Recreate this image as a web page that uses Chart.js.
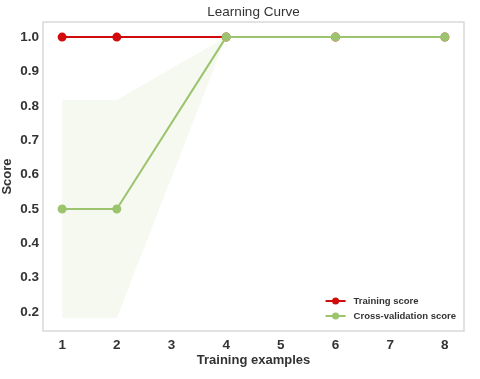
<!DOCTYPE html>
<html>
<head>
<meta charset="utf-8">
<script src="https://cdn.jsdelivr.net/npm/chart.js@4.4.1/dist/chart.umd.min.js"></script>
<style>
  html, body { margin: 0; padding: 0; background: #fff; }
  #wrap { width: 480px; height: 379px; }
</style>
</head>
<body>
<div id="wrap"><canvas id="lcChart" width="480" height="379"></canvas></div>
<script>
// data
const trainSizes = [1, 2, 4, 6, 8];
const trainScore = [1.0, 1.0, 1.0, 1.0, 1.0];
const cvScore = [0.5, 0.5, 1.0, 1.0, 1.0];
const cvUpper = [0.817, 0.817, 1.0, 1.0, 1.0];
const cvLower = [0.183, 0.183, 1.0, 1.0, 1.0];
const xTicks = [1, 2, 3, 4, 5, 6, 7, 8];
const yTicks = [0.2, 0.3, 0.4, 0.5, 0.6, 0.7, 0.8, 0.9, 1.0];
const chartTitle = 'Learning Curve';

const red = '#d10b0b';
const green = '#9cc46e';
const font = '"Liberation Sans", Arial, sans-serif';

const pts = (ys) => trainSizes.map((x, i) => ({ x: x, y: ys[i] }));

// frame around plot, title over the plot, legend inside bottom right
const framePlugin = {
    id: 'frame',
    beforeDatasetsDraw(chart) {
        const a = chart.chartArea, c = chart.ctx;
        c.save();
        c.strokeStyle = '#d9d9d9';
        c.lineWidth = 1.5;
        c.strokeRect(a.left, a.top, a.right - a.left, a.bottom - a.top);
        c.restore();
    },
    afterDraw(chart) {
        const a = chart.chartArea, c = chart.ctx;
        c.save();
        c.font = '13.5px ' + font;
        c.fillStyle = '#333';
        c.textAlign = 'center';
        c.textBaseline = 'middle';
        c.fillText(chartTitle, (a.left + a.right) / 2, 12);

        const items = [chart.data.datasets[0], chart.data.datasets[1]];
        c.font = 'bold 9.5px ' + font;
        c.textAlign = 'left';
        let w = 0;
        items.forEach(d => { w = Math.max(w, c.measureText(d.label).width); });
        const textX = a.right - 8 - w;
        const lineX0 = textX - 28, lineX1 = textX - 8;
        items.forEach((d, i) => {
            const y = a.bottom - 30 + i * 15;
            c.strokeStyle = d.borderColor;
            c.lineWidth = 2;
            c.beginPath(); c.moveTo(lineX0, y); c.lineTo(lineX1, y); c.stroke();
            c.fillStyle = d.borderColor;
            c.beginPath(); c.arc((lineX0 + lineX1) / 2, y, 3.5, 0, Math.PI * 2); c.fill();
            c.fillStyle = '#333';
            c.fillText(d.label, textX, y + 0.5);
        });
        c.restore();
    }
};

const ctx1 = document.getElementById('lcChart').getContext('2d');

const lcChart = new Chart(ctx1, {
    type: 'line',
    data: {
        datasets: [
            {
                label: 'Training score',
                data: pts(trainScore),
                borderColor: red,
                backgroundColor: red,
                borderWidth: 2,
                pointRadius: 3.5,
                pointHoverRadius: 3.5,
                order: 1
            },
            {
                label: 'Cross-validation score',
                data: pts(cvScore),
                borderColor: green,
                backgroundColor: green,
                borderWidth: 2,
                pointRadius: 3.5,
                pointHoverRadius: 3.5,
                order: 0
            },
            {
                label: 'cv upper',
                data: pts(cvUpper),
                borderWidth: 0,
                borderColor: 'rgba(0,0,0,0)',
                pointRadius: 0,
                fill: '+1',
                backgroundColor: 'rgba(156,196,110,0.1)',
                order: 5
            },
            {
                label: 'cv lower',
                data: pts(cvLower),
                borderWidth: 0,
                borderColor: 'rgba(0,0,0,0)',
                pointRadius: 0,
                fill: false,
                order: 5
            }
        ]
    },
    options: {
        responsive: false,
        animation: false,
        layout: { padding: { left: 0, right: 16, top: 22, bottom: 0 } },
        plugins: {
            legend: { display: false },
            tooltip: { enabled: false },
            title: { display: false }
        },
        scales: {
            x: {
                type: 'linear',
                min: 0.65,
                max: 8.35,
                afterBuildTicks: (s) => { s.ticks = xTicks.map(v => ({ value: v })); },
                afterFit: (s) => { s.height = 48; },
                grid: { display: false, drawTicks: false, tickLength: 0 },
                border: { display: false },
                ticks: {
                    color: '#333',
                    padding: 6,
                    font: { family: font, size: 13.5, weight: 'bold' },
                    callback: (v) => String(v)
                },
                title: {
                    display: true,
                    text: 'Training examples',
                    color: '#333',
                    font: { family: font, size: 13, weight: 'bold' },
                    padding: { top: 0, bottom: 11 }
                }
            },
            y: {
                min: 0.145,
                max: 1.044,
                afterBuildTicks: (s) => { s.ticks = yTicks.map(v => ({ value: v })); },
                afterFit: (s) => { s.width = 43; },
                grid: { display: false, drawTicks: false, tickLength: 0 },
                border: { display: false },
                ticks: {
                    color: '#333',
                    padding: 4,
                    font: { family: font, size: 13.5, weight: 'bold' },
                    callback: (v) => v.toFixed(1)
                },
                title: {
                    display: true,
                    text: 'Score',
                    color: '#333',
                    font: { family: font, size: 13, weight: 'bold' },
                    padding: { top: 0, bottom: 3 }
                }
            }
        }
    },
    plugins: [framePlugin]
});
</script>
</body>
</html>
